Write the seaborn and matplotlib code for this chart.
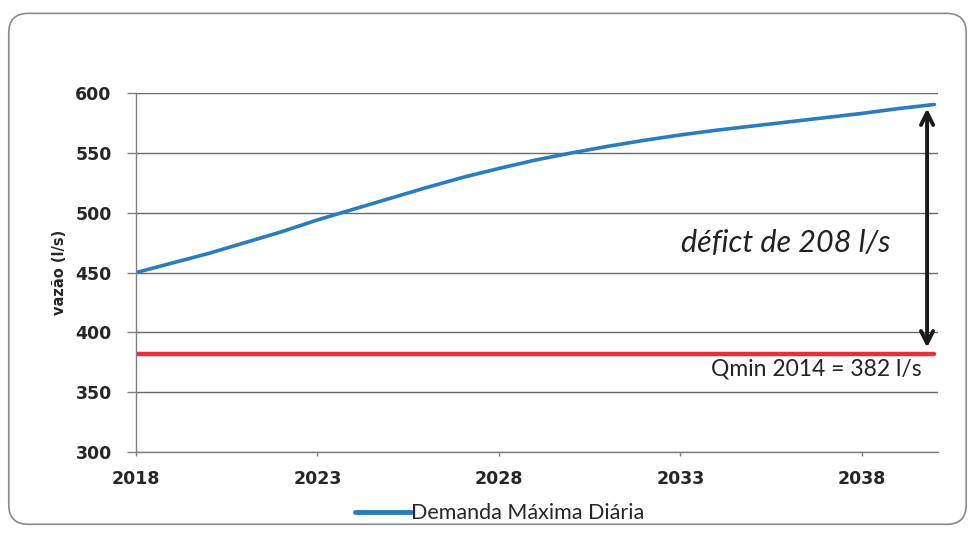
import pandas as pd
import matplotlib
matplotlib.use("Agg")
import matplotlib.pyplot as plt
import seaborn as sns
from matplotlib.patches import FancyBboxPatch

# Valores
anos = list(range(2018, 2041))
demanda = [450, 458, 466, 475, 484, 494, 503, 512, 521, 529.5, 537, 544,
           550, 555.5, 560.5, 565, 569, 572.5, 576, 579.5, 583, 587, 590.5]
qmin = [382] * len(anos)
xticks = [2018, 2023, 2028, 2033, 2038]
yticks = [300, 350, 400, 450, 500, 550, 600]

df = pd.DataFrame({"ano": anos, "demanda": demanda, "qmin": qmin})

sns.set_theme(style="white")
plt.rcParams['font.family'] = ['Lato', 'DejaVu Sans']

fig = plt.figure(figsize=(9.74, 5.35), dpi=100)
ax = fig.add_axes([0.1396, 0.155, 0.8234, 0.671])

# moldura arredondada
frame = FancyBboxPatch((0.009, 0.02), 0.983, 0.955, boxstyle="round,pad=0,rounding_size=0.02",
                       transform=fig.transFigure, fill=False, edgecolor="#8a8a8a", linewidth=1.2,
                       mutation_aspect=974 / 535)
fig.patches.append(frame)

sns.lineplot(data=df, x="ano", y="qmin", ax=ax, color="#e3313c", linewidth=3.2, legend=False)
sns.lineplot(data=df, x="ano", y="demanda", ax=ax, color="#2a7cbd", linewidth=2.6,
             label="Demanda Máxima Diária")

ax.set_xlim(2018, 2040.1)
ax.set_ylim(300, 600)
ax.set_xticks(xticks)
ax.set_yticks(yticks)
ax.set_xticklabels([str(t) for t in xticks], fontweight="bold", fontsize=12.5, family="DejaVu Sans")
ax.set_yticklabels([str(t) for t in yticks], fontweight="bold", fontsize=12.5, family="DejaVu Sans")
ax.tick_params(axis="y", length=6.5, width=1, color="#808080", pad=11, direction="out", left=True)
ax.tick_params(axis="x", length=3, width=1, color="#808080", pad=10, direction="out", bottom=True)
ax.grid(axis="y", color="#6a6a6a", linewidth=1.0)
ax.set_axisbelow(True)
for s in ["top", "right"]:
    ax.spines[s].set_visible(False)
for s in ["left", "bottom"]:
    ax.spines[s].set_color("#808080")
    ax.spines[s].set_linewidth(1.0)

ax.set_xlabel("")
ax.set_ylabel("vazão (l/s)", fontsize=10.5, fontweight="bold", family=["Liberation Sans Narrow", "DejaVu Sans"],
              labelpad=6)

# seta do déficit
ax.annotate("", xy=(2039.8, demanda[-1] - 1), xytext=(2039.8, 385),
            arrowprops=dict(arrowstyle="<->", color="#1a1a1a", lw=2.8, mutation_scale=22))
ax.text(2035.9, 475, "défict de 208 l/s", fontsize=22, style="italic", color="#222222",
        ha="center", va="center")
ax.text(2039.65, 369.5, "Qmin 2014 = 382 l/s", fontsize=16.5, color="#222222", ha="right", va="center")

leg = ax.legend(loc="center", bbox_to_anchor=(0.513, 0.041), bbox_transform=fig.transFigure,
                frameon=False, fontsize=15.5, handlelength=2.6, handletextpad=0.0)
for line in leg.get_lines():
    line.set_linewidth(3.5)

fig.savefig("out.png", dpi=100, facecolor="white")
